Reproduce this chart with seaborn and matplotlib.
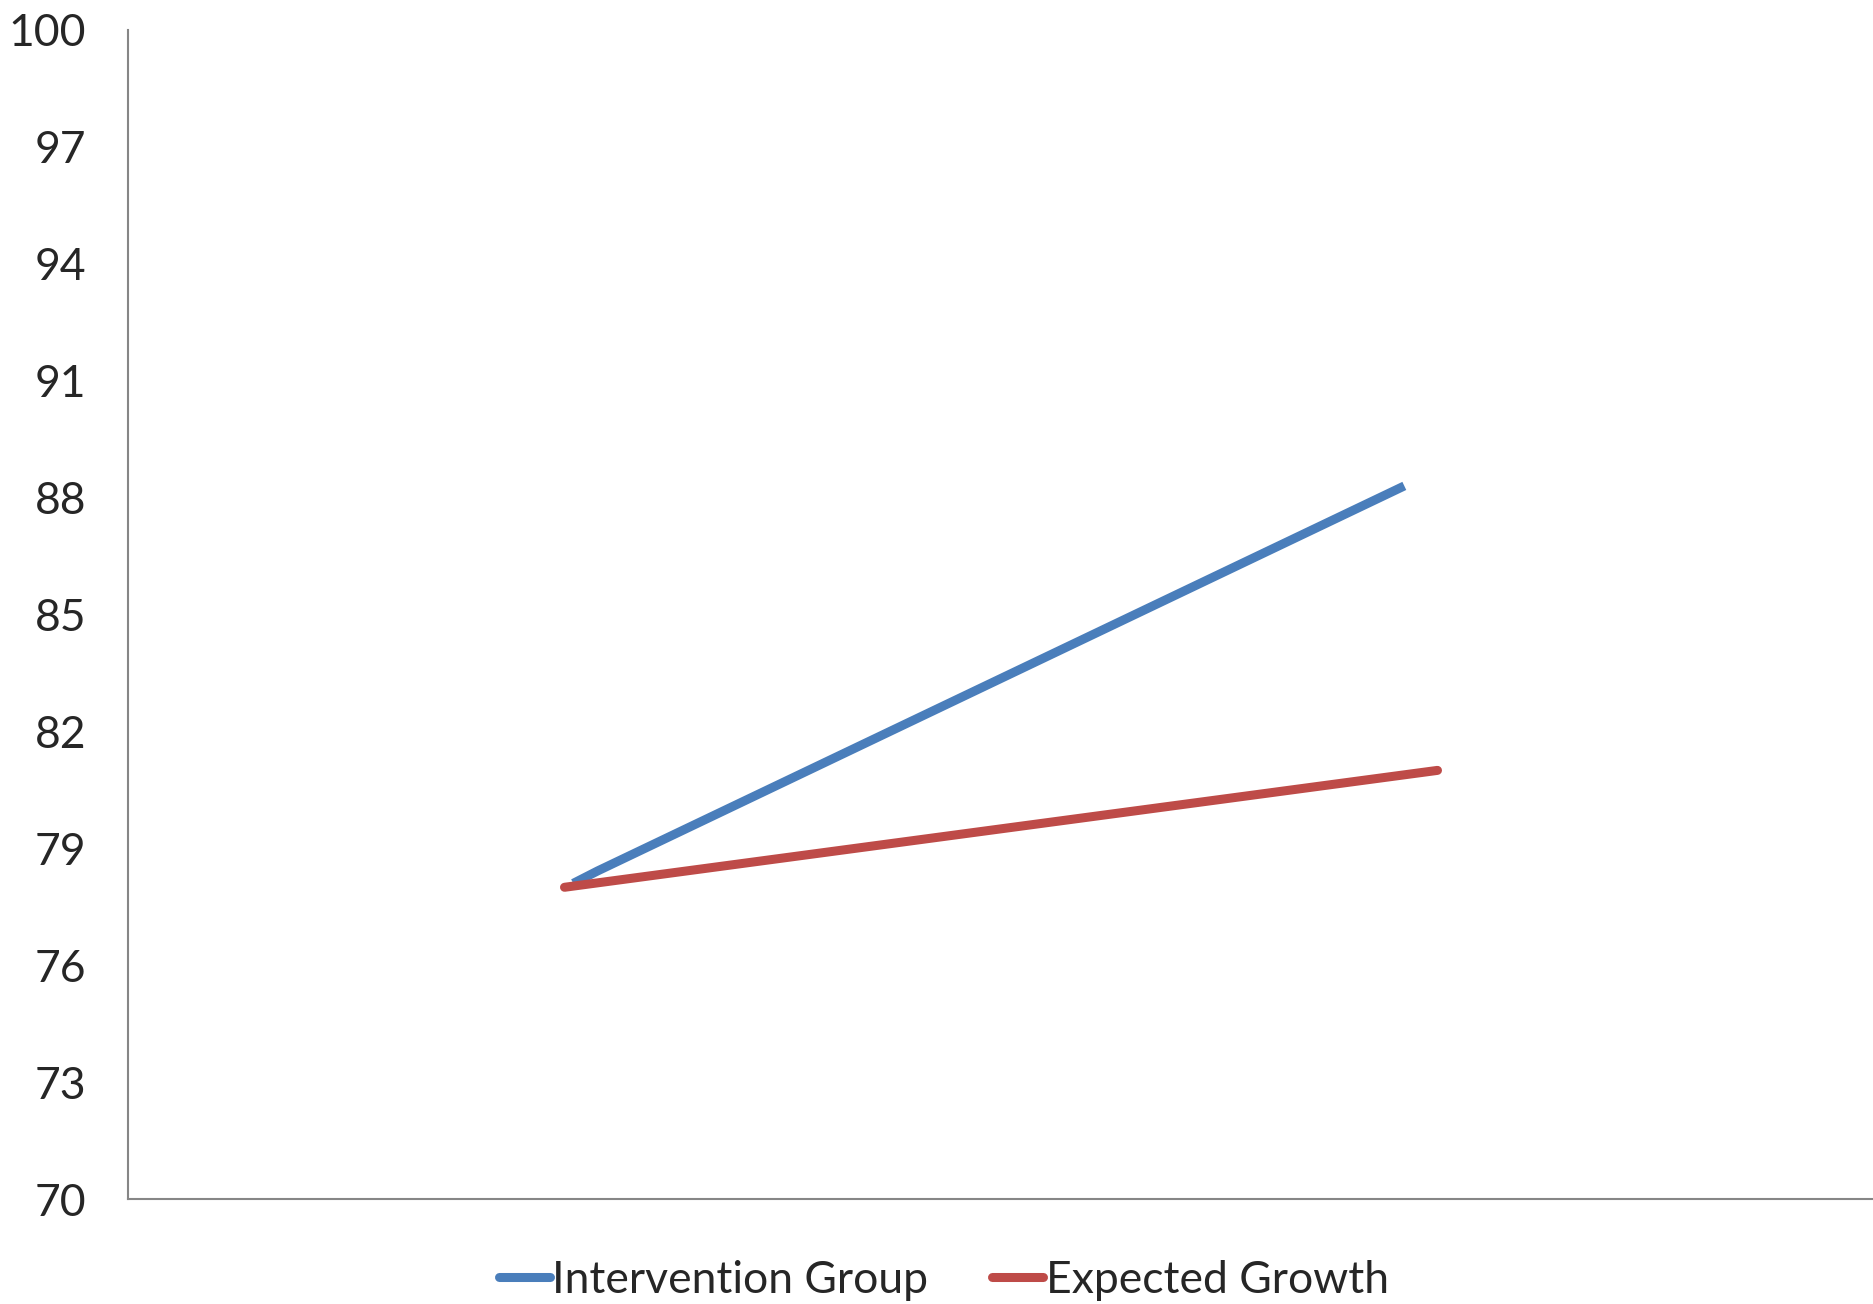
import matplotlib
matplotlib.use("Agg")
import matplotlib.pyplot as plt
import seaborn as sns
import pandas as pd
from matplotlib.lines import Line2D

# Scores over time for the two groups
intervention_x = [5.1, 5.38, 14.62]
intervention_y = [78.1, 78.42, 88.3]
expected_x = [5.0, 15.0]
expected_y = [78.0, 81.0]
series_names = ["Intervention Group", "Expected Growth"]
y_ticks = [70, 73, 76, 79, 82, 85, 88, 91, 94, 97, 100]

df = pd.concat([
    pd.DataFrame({"x": intervention_x, "score": intervention_y, "series": series_names[0]}),
    pd.DataFrame({"x": expected_x, "score": expected_y, "series": series_names[1]}),
], ignore_index=True)

sns.set_style("white")
plt.rcParams["font.family"] = ["Lato", "DejaVu Sans"]

fig = plt.figure(figsize=(18.74, 13.04), dpi=100)
ax = fig.add_axes([0.0683, 0.0805, 0.9317, 0.8965])

palette = {series_names[0]: "#4A7EBB", series_names[1]: "#BE4B48"}
sns.lineplot(data=df, x="x", y="score", hue="series", palette=palette,
             linewidth=6.5, sort=False, estimator=None, ax=ax, legend=False)
ax.lines[0].set_solid_capstyle("butt")
ax.lines[1].set_solid_capstyle("round")

ax.set_xlim(0, 20)
ax.set_ylim(70, 100)
ax.set_yticks(y_ticks)
ax.set_yticklabels([str(t) for t in y_ticks], fontsize=32)
ax.set_xticks([])
ax.set_xlabel("")
ax.set_ylabel("")
ax.tick_params(axis="y", length=0, pad=30)

for side in ["top", "right"]:
    ax.spines[side].set_visible(False)
for side in ["left", "bottom"]:
    ax.spines[side].set_color("#868686")
    ax.spines[side].set_linewidth(1.5)

handles = [Line2D([0], [0], color=palette[n], linewidth=6.5, solid_capstyle="round") for n in series_names]
fig.legend(handles, series_names, loc="center", bbox_to_anchor=(0.5035, 0.018),
           ncol=2, frameon=False, fontsize=32, handlelength=1.15,
           handletextpad=0.05, columnspacing=1.45)

fig.savefig("out.png", dpi=100)
